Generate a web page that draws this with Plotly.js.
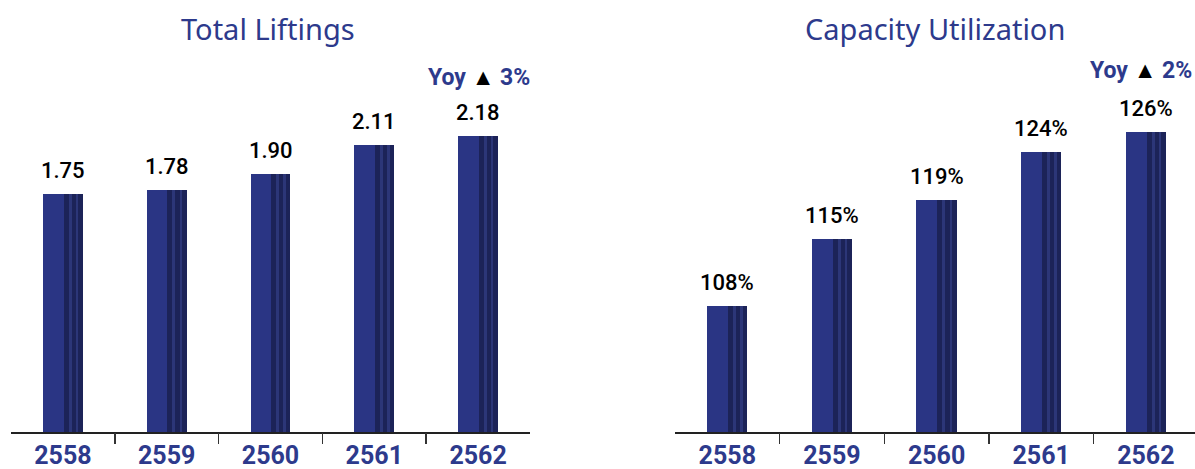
<!DOCTYPE html>
<html><head><meta charset="utf-8">
<script src="https://cdn.plot.ly/plotly-3.0.1.min.js"></script>
<style>html,body{margin:0;padding:0;background:#fff}#chart{width:1195px;height:469px}</style>
</head><body><div id="chart"></div>
<script>
const years = ["2558","2559","2560","2561","2562"];
const liftings = [1.75, 1.78, 1.90, 2.11, 2.18];
const liftingLabels = ["1.75","1.78","1.90","2.11","2.18"];
const utilization = [108, 115, 119, 124, 126];
const utilizationLabels = ["108%","115%","119%","124%","126%"];
const titles = ["Total Liftings", "Capacity Utilization"];
const yoyTexts = ["Yoy <span style='color:#000;font-weight:400'>▲</span> 3%", "Yoy <span style='color:#000;font-weight:400'>▲</span> 2%"];
const dividers = [0.5, 1.5, 2.5, 3.5];

const NAVY = "#2a3584", DARK = "#1c2358", MID = "#2c3678", LBL = "#2d3a8c";
const FONT = "Roboto, 'Noto Sans', sans-serif";

function barSet(x, y, xa, ya) {
  const base = {type:"bar", x:x, y:y, xaxis:xa, yaxis:ya, hoverinfo:"skip", showlegend:false};
  return [
    Object.assign({}, base, {width:0.385, offset:-0.1925, marker:{color:NAVY, line:{width:0}}}),
    Object.assign({}, base, {width:0.185, offset:0.0075, marker:{color:DARK, line:{width:0}}}),
    Object.assign({}, base, {width:0.028, offset:0.055, marker:{color:MID, line:{width:0}}}),
    Object.assign({}, base, {width:0.022, offset:0.125, marker:{color:MID, line:{width:0}}})
  ];
}

// invisible traces carrying the divider-tick axes
function dividerTrace(xa, ya, yv) {
  return {type:"scatter", mode:"markers", x:dividers, y:dividers.map(() => yv), xaxis:xa, yaxis:ya,
    marker:{opacity:0, size:1}, hoverinfo:"skip", showlegend:false};
}

const data = [].concat(
  barSet(years, liftings, "x", "y"),
  barSet(years, utilization, "x2", "y2"),
  [dividerTrace("x3", "y", 0), dividerTrace("x4", "y2", 100)]
);

function valueAnns(y, t, xr, yr) {
  return y.map((v, i) => ({x:i, y:v, text:t[i], xref:xr, yref:yr, showarrow:false,
    yanchor:"bottom", yshift:9, font:{family:FONT, size:22, color:"#000", weight:500}}));
}

const xCommon = {type:"category", showgrid:false, zeroline:false, showline:true, linecolor:"#222", linewidth:1.5,
  ticks:"", tickfont:{family:FONT, size:25, color:LBL, weight:700}, fixedrange:true};
const xDiv = {type:"linear", showgrid:false, zeroline:false, showline:false, showticklabels:false,
  ticks:"outside", tickmode:"array", tickvals:dividers, ticklen:11, tickwidth:1.5, tickcolor:"#333", fixedrange:true};
const yCommon = {visible:false, showgrid:false, zeroline:false, fixedrange:true};

const D1 = [11/1195, 530/1195], D2 = [675/1195, 1];
const R1 = [-0.5, 4.5], R2 = [-0.5, 4.47];

const layout = {
  width:1195, height:469,
  margin:{l:0, r:0, t:60, b:37},
  paper_bgcolor:"#fff", plot_bgcolor:"rgba(0,0,0,0)",
  barmode:"overlay", bargap:0,
  xaxis: Object.assign({}, xCommon, {domain:D1, range:R1, anchor:"y"}),
  yaxis: Object.assign({}, yCommon, {domain:[0,1], range:[0, 2.739], anchor:"x"}),
  xaxis2: Object.assign({}, xCommon, {domain:D2, range:R2, anchor:"y2"}),
  yaxis2: Object.assign({}, yCommon, {domain:[0,1], range:[95, 133.48], anchor:"x2"}),
  xaxis3: Object.assign({}, xDiv, {domain:D1, range:R1, anchor:"y"}),
  xaxis4: Object.assign({}, xDiv, {domain:D2, range:R2, anchor:"y2"}),
  annotations: [].concat(
    valueAnns(liftings, liftingLabels, "x", "y"),
    valueAnns(utilization, utilizationLabels, "x2", "y2"),
    [
      {text:titles[0], xref:"x domain", yref:"paper", x:0.495, y:1, yshift:32, yanchor:"middle", xanchor:"center", showarrow:false,
       font:{family:"'Noto Sans', sans-serif", size:29, color:LBL}},
      {text:titles[1], xref:"x2 domain", yref:"paper", x:0.5, y:1, yshift:32, yanchor:"middle", xanchor:"center", showarrow:false,
       font:{family:"'Noto Sans', sans-serif", size:29, color:LBL}},
      {text:yoyTexts[0], xref:"x domain", yref:"paper", x:1, y:1, xshift:2, yshift:-17, xanchor:"right", yanchor:"middle", showarrow:false,
       font:{family:FONT, size:23, color:LBL, weight:700}},
      {text:yoyTexts[1], xref:"x2 domain", yref:"paper", x:1, y:1, xshift:-1, yshift:-10, xanchor:"right", yanchor:"middle", showarrow:false,
       font:{family:FONT, size:23, color:LBL, weight:700}}
    ]
  )
};

Plotly.newPlot("chart", data, layout, {displayModeBar:false, staticPlot:true});
</script></body></html>
